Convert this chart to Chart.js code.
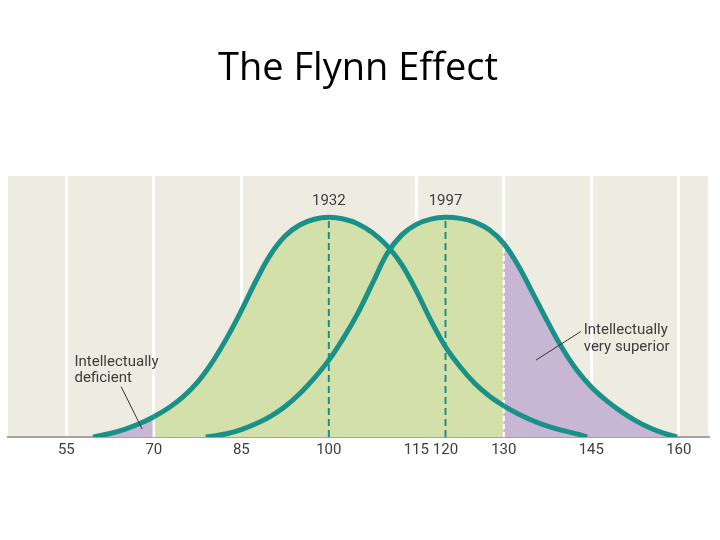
<!DOCTYPE html>
<html>
<head>
<meta charset="utf-8">
<script src="https://cdn.jsdelivr.net/npm/chart.js@4"></script>
<style>
  html, body { margin: 0; padding: 0; background: #ffffff; }
  #wrap { width: 720px; height: 540px; }
</style>
</head>
<body>
<div id="wrap"><canvas id="c" width="720" height="540"></canvas></div>
<script>
// ---- data ----
const titleText = "The Flynn Effect";
const tickValues = [55, 70, 85, 100, 115, 120, 130, 145, 160];
const noGridTicks = [100, 120];

const iq1932  = [59.6, 62.5, 65, 67.5, 70, 72.5, 75, 77.5, 80, 82.5, 85, 87.5, 90, 92.5, 95, 97.5, 100,
                 102.5, 105, 107.5, 110, 112.5, 115, 117.5, 120, 122.5, 125, 127.5, 130, 132.5, 135, 137.5, 140, 142.5, 144.3];
const pct1932 = [0, 1.6, 3.5, 6, 9.2, 13.2, 18.3, 25, 34, 45, 57.5, 71, 83, 91.5, 96.5, 99.1, 100,
                 99.2, 97, 93, 87, 78.5, 66.5, 53, 41, 32, 24.5, 18.7, 14.2, 10.5, 7.4, 4.9, 3, 1.4, 0];

const iq1997  = [78.9, 80, 82.5, 85, 87.5, 90, 92.5, 95, 97.5, 100, 102.5, 105, 107.5, 110, 112.5, 115, 117.5, 120,
                 122.5, 125, 127.5, 130, 132.5, 135, 137.5, 140, 142.5, 145, 147.5, 150, 152.5, 155, 157.5, 159.7];
const pct1997 = [0, 0.4, 1.5, 3.4, 6, 9.4, 13.9, 19.7, 26.8, 35, 45, 56.5, 70, 83.5, 92, 96.8, 99.2, 100,
                 99.5, 97.8, 94.3, 88, 77.8, 65.3, 52.5, 40.5, 30.5, 22.8, 16.8, 11.8, 7.6, 4.2, 1.6, 0];

const yearLabels = ["1932", "1997"];
const yearMeans = [100, 120];
const lowCut = 70;
const highCut = 130;
const lowLabel = ["Intellectually", "deficient"];
const highLabel = ["Intellectually", "very superior"];

// ---- styles ----
const TEAL = '#1a9188';
const GREEN = '#d4e0a9';
const PURPLE = '#c8b6d5';
const BEIGE = '#eeebe0';
const TEXT = '#3d3d3d';

const toPts = (xs, ys) => xs.map((x, i) => ({ x: x, y: ys[i] }));
const peak1932 = pct1932[iq1932.indexOf(yearMeans[0])];
const peak1997 = pct1997[iq1997.indexOf(yearMeans[1])];
const lowH = pct1932[iq1932.indexOf(lowCut)];
const highH = pct1997[iq1997.indexOf(highCut)];

const fillColor = (lowPurple) => (ctx) => {
  const x = ctx.p0.parsed.x;
  if (x >= highCut) return PURPLE;
  if (lowPurple && x < lowCut) return PURPLE;
  return GREEN;
};

const bgPlugin = {
  id: 'bg',
  beforeDraw(chart) {
    const { ctx, chartArea: a } = chart;
    ctx.save();
    ctx.fillStyle = BEIGE;
    ctx.fillRect(a.left, a.top, a.right - a.left, a.bottom - a.top);
    ctx.restore();
  }
};

const notePlugin = {
  id: 'notes',
  afterDatasetsDraw(chart) {
    const { ctx, scales: { x, y } } = chart;
    ctx.save();
    ctx.fillStyle = TEXT;
    ctx.font = '15px Roboto';
    ctx.textBaseline = 'middle';
    ctx.textAlign = 'center';
    ctx.fillText(yearLabels[0], x.getPixelForValue(yearMeans[0]), y.getPixelForValue(107.5));
    ctx.fillText(yearLabels[1], x.getPixelForValue(yearMeans[1]), y.getPixelForValue(107.5));
    ctx.textAlign = 'left';
    ctx.fillText(lowLabel[0], x.getPixelForValue(56.4), y.getPixelForValue(34.2));
    ctx.fillText(lowLabel[1], x.getPixelForValue(56.4), y.getPixelForValue(26.6));
    ctx.fillText(highLabel[0], x.getPixelForValue(143.7), y.getPixelForValue(48.5));
    ctx.fillText(highLabel[1], x.getPixelForValue(143.7), y.getPixelForValue(40.8));
    ctx.strokeStyle = '#333';
    ctx.lineWidth = 1;
    ctx.beginPath();
    ctx.moveTo(x.getPixelForValue(64.4), y.getPixelForValue(22.9));
    ctx.lineTo(x.getPixelForValue(68.0), y.getPixelForValue(3.6));
    ctx.moveTo(x.getPixelForValue(135.5), y.getPixelForValue(35.0));
    ctx.lineTo(x.getPixelForValue(143.2), y.getPixelForValue(48.0));
    ctx.stroke();
    ctx.restore();
  }
};

new Chart(document.getElementById('c'), {
  type: 'line',
  data: {
    datasets: [
      {
        label: '1932',
        data: toPts(iq1932, pct1932),
        borderColor: TEAL, borderWidth: 5, pointRadius: 0,
        tension: 0.4,
        fill: 'origin', backgroundColor: GREEN,
        segment: { backgroundColor: fillColor(true) },
        order: 0
      },
      {
        label: '1997',
        data: toPts(iq1997, pct1997),
        borderColor: TEAL, borderWidth: 5, pointRadius: 0,
        tension: 0.4,
        fill: 'origin', backgroundColor: GREEN,
        segment: { backgroundColor: fillColor(false) },
        order: 0
      },
      {
        label: 'mean1932',
        data: [{ x: yearMeans[0], y: 0 }, { x: yearMeans[0], y: peak1932 }],
        borderColor: TEAL, borderWidth: 2, borderDash: [7, 4], pointRadius: 0, fill: false, order: 1
      },
      {
        label: 'mean1997',
        data: [{ x: yearMeans[1], y: 0 }, { x: yearMeans[1], y: peak1997 }],
        borderColor: TEAL, borderWidth: 2, borderDash: [7, 4], pointRadius: 0, fill: false, order: 1
      },
      {
        label: 'low',
        data: [{ x: lowCut, y: 0 }, { x: lowCut, y: lowH }],
        borderColor: '#ffffff', borderWidth: 2.5, pointRadius: 0, fill: false, order: 1
      },
      {
        label: 'high',
        data: [{ x: highCut, y: 0 }, { x: highCut, y: highH }],
        borderColor: '#ffffff', borderWidth: 2, borderDash: [5, 3], pointRadius: 0, fill: false, order: 1
      }
    ]
  },
  options: {
    responsive: false,
    animation: false,
    layout: { padding: { left: 8, right: 12, top: 0, bottom: 77 } },
    plugins: {
      legend: { display: false },
      tooltip: { enabled: false },
      filler: { drawTime: 'beforeDatasetsDraw' },
      title: {
        display: true, text: titleText, color: '#000000',
        font: { family: 'Open Sans', size: 38, weight: 'normal', lineHeight: 1.2 },
        padding: { top: 46, bottom: 84.4 }
      }
    },
    scales: {
      x: {
        type: 'linear', min: 45, max: 165,
        afterBuildTicks: (s) => { s.ticks = tickValues.map(v => ({ value: v })); },
        grid: {
          color: (c) => (c.tick && noGridTicks.includes(c.tick.value)) ? 'rgba(0,0,0,0)' : '#ffffff',
          lineWidth: 3, drawTicks: false
        },
        border: { display: true, color: '#a3a3a3', width: 2 },
        ticks: {
          autoSkip: false, maxRotation: 0, padding: 4, color: TEXT,
          font: { family: 'Roboto', size: 15 },
          callback: (v) => String(v)
        }
      },
      y: { display: false, min: 0, max: 118.8 }
    }
  },
  plugins: [bgPlugin, notePlugin]
});
</script>
</body>
</html>
